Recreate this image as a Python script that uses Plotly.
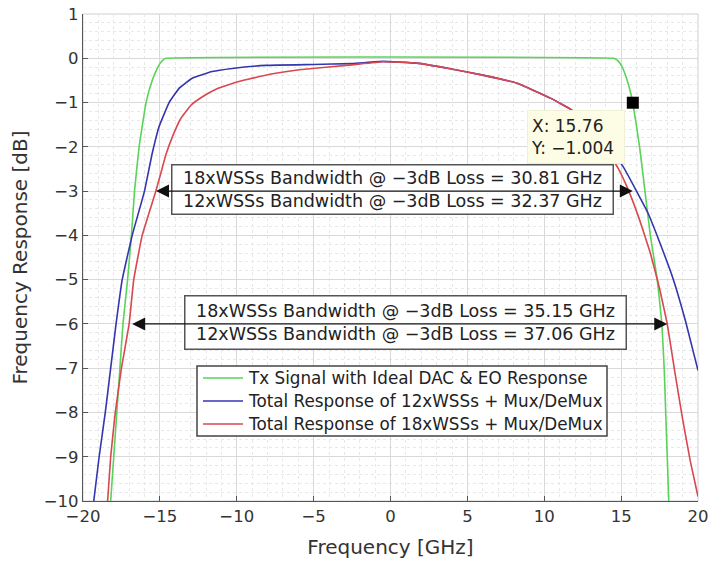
import plotly.graph_objects as go

# Frequency axis samples [GHz] and responses [dB] for each curve
tx_freq = [-18.2, -18.0, -17.8, -17.6, -17.4, -17.1, -16.85, -16.65, -16.35, -15.9,
           -15.5, -15.2, -15.0, -14.8, -14.6, 14.5, 14.7, 14.9, 15.1, 15.3, 15.5,
           15.76, 16.2, 16.55, 16.9, 17.35, 17.65, 17.8, 17.9, 18.0, 18.1]
tx_resp = [-10.0, -9.0, -8.0, -7.0, -6.0, -5.0, -4.0, -3.0, -2.0, -1.0,
           -0.5, -0.25, -0.12, -0.04, 0.0, 0.0, -0.03, -0.1, -0.22, -0.4, -0.62,
           -1.004, -2.0, -3.0, -4.0, -5.0, -6.0, -7.0, -8.0, -9.0, -10.0]

wss12_freq = [-19.3, -18.95, -18.55, -18.2, -17.85, -17.45, -16.8, -16.0, -15.5, -15.05,
              -14.4, -13.75, -12.9, -11.6, -10.3, -8.1, -5.0, -2.5, -0.5, 1.7,
              3.8, 6.0, 8.2, 10.4, 11.8, 13.5, 15.1, 16.74, 17.5, 18.4, 19.2, 20.0]
wss12_resp = [-10.0, -9.0, -8.0, -7.0, -6.0, -5.0, -4.0, -3.0, -2.15, -1.54,
              -1.0, -0.68, -0.45, -0.30, -0.23, -0.16, -0.14, -0.12, -0.07, -0.11,
              -0.23, -0.38, -0.56, -0.9, -1.17, -1.75, -2.43, -3.49, -4.15, -5.0, -5.95, -7.05]

wss18_freq = [-18.4, -18.2, -17.9, -17.5, -17.0, -16.7, -16.15, -15.27, -14.94, -14.61,
              -14.18, -13.64, -12.98, -12.23, -11.35, -10.29, -9.2, -7.66, -5.93, -2.5,
              -0.5, 1.7, 3.8, 6.0, 8.2, 10.4, 11.8, 13.3, 14.8, 15.5, 16.2, 16.9, 17.5,
              18.0, 18.5, 19.0, 19.5, 20.0]
wss18_resp = [-10.0, -9.0, -8.0, -7.0, -6.0, -5.0, -4.0, -3.01, -2.6, -2.18,
              -1.77, -1.36, -1.06, -0.87, -0.70, -0.57, -0.47, -0.35, -0.26, -0.15,
              -0.08, -0.11, -0.23, -0.38, -0.56, -0.9, -1.17, -1.7, -2.48, -3.0, -3.65, -4.4, -5.2,
              -6.0, -7.1, -8.15, -9.1, -9.9]

series_names = ["Tx Signal with Ideal DAC & EO Response",
                "Total Response of 12xWSSs + Mux/DeMux",
                "Total Response of 18xWSSs + Mux/DeMux"]
series_colors = ["#5ad35a", "#3535b0", "#d9474f"]

# Datatip on the Tx curve
tip_x, tip_y = 15.76, -1.004

# Bandwidth markers: level [dB], arrow ends [GHz], label lines
bw_levels = [-3.0, -6.0]
bw_left = [-15.35, -16.9]
bw_right = [15.76, 18.0]
bw_labels = [["18xWSSs Bandwidth @ −3dB Loss = 30.81 GHz",
              "12xWSSs Bandwidth @ −3dB Loss = 32.37 GHz"],
             ["18xWSSs Bandwidth @ −3dB Loss = 35.15 GHz",
              "12xWSSs Bandwidth @ −3dB Loss = 37.06 GHz"]]
bw_box_centre = [(0.16, -2.975), (0.98, -5.97)]
bw_box_height = [44, 48]

x_ticks = [-20, -15, -10, -5, 0, 5, 10, 15, 20]
y_ticks = [1, 0, -1, -2, -3, -4, -5, -6, -7, -8, -9, -10]

FONT = "DejaVu Sans, Lucida Grande, sans-serif"

# plot-area geometry in pixels (for the hand-built legend)
W, H = 711, 563
ML, MR, MT, MB = 83, 13, 14, 62
PW, PH = W - ML - MR, H - MT - MB


def px_to_paper(px, py):
    return (px - ML) / PW, (H - MB - py) / PH


fig = go.Figure()
for xs, ys, name, col in zip([tx_freq, wss12_freq, wss18_freq],
                             [tx_resp, wss12_resp, wss18_resp],
                             series_names, series_colors):
    fig.add_trace(go.Scatter(x=xs, y=ys, mode="lines", name=name, showlegend=False,
                             line=dict(color=col, width=1.6, shape="spline", smoothing=0.3)))

fig.add_trace(go.Scatter(x=[tip_x], y=[tip_y], mode="markers", showlegend=False,
                         marker=dict(symbol="square", size=12, color="black")))

annotations = []
shapes = [dict(type="rect", xref="paper", yref="paper", x0=0, x1=1, y0=0, y1=1,
               line=dict(color="#cfcfcf", width=1), layer="below")]

for lvl, xl, xr, lines, (cx, cy), bh in zip(bw_levels, bw_left, bw_right, bw_labels,
                                             bw_box_centre, bw_box_height):
    annotations.append(dict(x=cx, y=cy, xref="x", yref="y", showarrow=False,
                            text="<br>".join(lines), align="center", width=436, height=bh,
                            font=dict(family=FONT, size=17.5, color="#222"),
                            bgcolor="white", bordercolor="#555", borderwidth=1.5,
                            borderpad=2))
    annotations.append(dict(x=xr, y=lvl, ax=xl, ay=lvl, xref="x", yref="y",
                            axref="x", ayref="y", text="", showarrow=True,
                            arrowside="end+start", arrowhead=2, arrowsize=2.0,
                            arrowwidth=1.3, arrowcolor="#111"))

annotations.append(dict(x=12.05, y=-1.77, xref="x", yref="y", showarrow=False,
                        text=f"X: {tip_x:.2f}<br>Y: {tip_y:.3f}".replace("-", "−"),
                        align="left", width=90, height=46,
                        font=dict(family=FONT, size=17, color="#222"),
                        bgcolor="#fdfde6", bordercolor="#f0f0d8", borderwidth=1,
                        borderpad=3))

# legend box with line samples and labels
lx0, ly0 = px_to_paper(197, 366)
lx1, ly1 = px_to_paper(607, 436)
shapes.append(dict(type="rect", xref="paper", yref="paper", x0=lx0, x1=lx1, y0=ly1, y1=ly0,
                   line=dict(color="#444", width=1.5), fillcolor="white", layer="above"))
for i, (name, col) in enumerate(zip(series_names, series_colors)):
    row_y = 378 + 23 * i
    sx0, sy = px_to_paper(203, row_y)
    sx1, _ = px_to_paper(243, row_y)
    shapes.append(dict(type="line", xref="paper", yref="paper", x0=sx0, x1=sx1, y0=sy, y1=sy,
                       line=dict(color=col, width=1.6), layer="above"))
    tx, _ = px_to_paper(246, row_y)
    annotations.append(dict(x=tx, y=sy, xref="paper", yref="paper", showarrow=False,
                            xanchor="left", yanchor="middle", text=name,
                            font=dict(family=FONT, size=16.8, color="#222")))

axis_common = dict(showgrid=True, gridcolor="#d9d9d9", gridwidth=1, automargin=False,
                   zeroline=False, showline=True, linecolor="#555", linewidth=1.2,
                   ticks="inside", ticklen=5, tickcolor="#555",
                   tickfont=dict(family=FONT, size=16.5, color="#333"))

fig.update_layout(
    width=W, height=H,
    margin=dict(l=ML, r=MR, t=MT, b=MB),
    paper_bgcolor="white", plot_bgcolor="white",
    font=dict(family=FONT, color="#333"),
    showlegend=False,
    xaxis=dict(range=[-20, 20], tickvals=x_ticks,
               minor=dict(dtick=1, showgrid=True, gridcolor="#e8e8e8", griddash="dot"),
               title=dict(text="Frequency [GHz]", font=dict(family=FONT, size=20, color="#333"),
                          standoff=15),
               **axis_common),
    yaxis=dict(range=[-10, 1], tickvals=y_ticks,
               minor=dict(dtick=0.2, showgrid=True, gridcolor="#e8e8e8", griddash="dot"),
               title=dict(text="Frequency Response [dB]",
                          font=dict(family=FONT, size=20, color="#333"), standoff=10),
               **axis_common),
    annotations=annotations,
    shapes=shapes,
)

fig.write_html("out.html")
